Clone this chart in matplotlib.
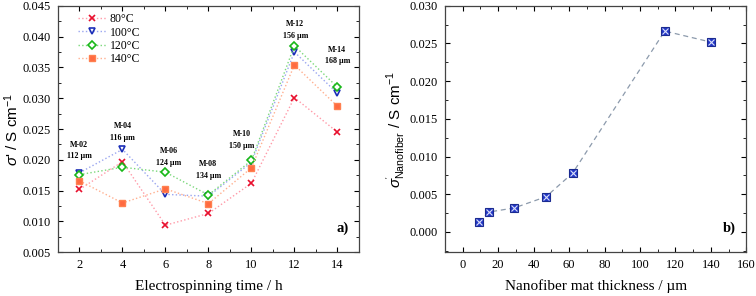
import numpy as np
import matplotlib.pyplot as plt
from matplotlib.ticker import MultipleLocator, AutoMinorLocator

plt.rcParams['font.family'] = ['Liberation Serif', 'DejaVu Serif']
plt.rcParams['mathtext.fontset'] = 'custom'
plt.rcParams['mathtext.rm'] = 'Liberation Sans'
plt.rcParams['mathtext.it'] = 'Liberation Sans:italic'

# panel a) data
time_h = [2, 4, 6, 8, 10, 12, 14]
s80 = [0.0152, 0.0197, 0.0094, 0.0113, 0.0162, 0.0301, 0.0245]
s100 = [0.0179, 0.0217, 0.0144, 0.0141, 0.0196, 0.0375, 0.0308]
s120 = [0.0176, 0.0188, 0.0180, 0.0143, 0.0199, 0.0385, 0.0318]
s140 = [0.0166, 0.0130, 0.0153, 0.0129, 0.0187, 0.0354, 0.0287]

mats = ["M-02\n112 µm", "M-04\n116 µm", "M-06\n124 µm", "M-08\n134 µm",
        "M-10\n150 µm", "M-12\n156 µm", "M-14\n168 µm"]
mat_x = [2, 4, 6.15, 8, 9.55, 12.05, 14]
mat_y = [0.0215, 0.0245, 0.0205, 0.0184, 0.0232, 0.0411, 0.0369]

# panel b) data
thick = [9, 15, 29, 47, 62, 114, 140]
s_nf = [0.00132, 0.00265, 0.00318, 0.00467, 0.0078, 0.02664, 0.02518]

fig = plt.figure(figsize=(7.56, 2.96), dpi=100)
ax1 = fig.add_axes([0.0767, 0.1476, 0.398, 0.833])
ax2 = fig.add_axes([0.5886, 0.1476, 0.3986, 0.833])

series = [
    (s80, "80°C", dict(marker='x', color='#ff9aa8', mec='#e8102e', mfc='#e8102e', ms=5, mew=1.2)),
    (s100, "100°C", dict(marker='v', color='#9aa6f0', mec='#1c2fb8', mfc='white', ms=5, mew=1.2)),
    (s120, "120°C", dict(marker='D', color='#7cd87c', mec='#18b818', mfc='white', ms=4, mew=1.2)),
    (s140, "140°C", dict(marker='s', color='#ffb090', mec='#ff8050', mfc='#ff6a40', ms=5, mew=1.0)),
]
for ys, lab, st in series:
    ax1.plot(time_h, ys, ls=':', lw=1.0, label=lab, **st)

for x, y, t in zip(mat_x, mat_y, mats):
    ax1.text(x, y, t, ha='center', va='center', fontsize=5.8,
             fontweight='bold', linespacing=1.6)

ax1.set_xlim(1, 15)
ax1.set_ylim(0.005, 0.045)
ax1.xaxis.set_major_locator(MultipleLocator(2))
ax1.yaxis.set_major_locator(MultipleLocator(0.005))
ax1.set_xlabel("Electrospinning time / h", fontsize=11, labelpad=6)
ax1.set_ylabel(r"$\sigma$' / S cm$^{-1}$", fontsize=11, family='Liberation Sans',
               labelpad=1)
ax1.yaxis.set_major_formatter(plt.FormatStrFormatter('%.3f'))
ax1.text(0.965, 0.07, "a)", transform=ax1.transAxes, ha='right', va='bottom',
         fontsize=10.5, fontweight='bold')
leg = ax1.legend(loc='upper left', bbox_to_anchor=(0.04, 1.0), frameon=False,
                 fontsize=8.5, handlelength=2.4, handletextpad=0.3, labelspacing=0.1,
                 borderaxespad=0.25)

ax2.plot(thick, s_nf, ls='--', lw=0.9, color='#8c9aac', dashes=(4, 3))
ax2.plot(thick, s_nf, ls='none', marker='s', ms=6, mfc='#2438c8', mec='#1a2a90', mew=0.8)
ax2.plot(thick, s_nf, ls='none', marker='x', ms=4, mec='#d8def8', mew=0.8)
ax2.set_xlim(-10, 160)
ax2.set_ylim(-0.0027, 0.030)
ax2.xaxis.set_major_locator(MultipleLocator(20))
ax2.yaxis.set_major_locator(MultipleLocator(0.005))
ax2.yaxis.set_major_formatter(plt.FormatStrFormatter('%.3f'))
ax2.set_xlabel("Nanofiber mat thickness / µm", fontsize=11, labelpad=6)
ax2.set_ylabel(r"$\sigma^{'}_{\mathrm{Nanofiber}}$ / S cm$^{-1}$", fontsize=11,
               family='Liberation Sans', labelpad=2)
ax2.text(0.965, 0.07, "b)", transform=ax2.transAxes, ha='right', va='bottom',
         fontsize=10.5, fontweight='bold')

for ax in (ax1, ax2):
    ax.xaxis.set_minor_locator(AutoMinorLocator(2))
    ax.yaxis.set_minor_locator(AutoMinorLocator(2))
    ax.tick_params(which='both', direction='in', top=True, right=True, labelsize=9)
    ax.tick_params(which='major', length=3.5, width=0.8, pad=5)
    ax.tick_params(which='minor', length=2, width=0.6)
    for s in ax.spines.values():
        s.set_linewidth(0.9)
        s.set_color('#444444')

fig.savefig("out.png", dpi=100)
